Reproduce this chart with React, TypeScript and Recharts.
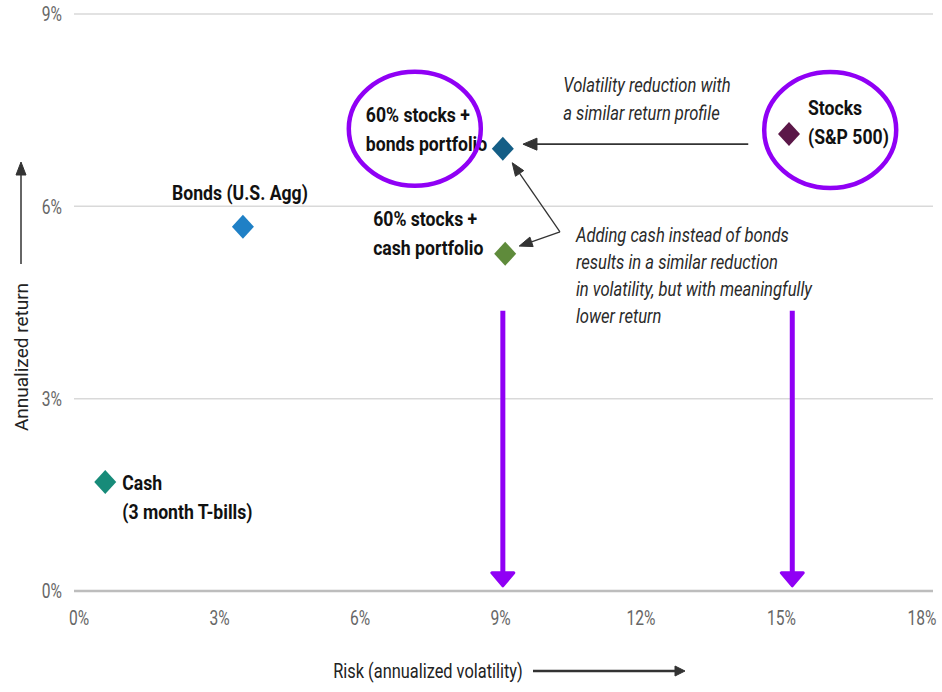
import { ScatterChart, Scatter, XAxis, YAxis, CartesianGrid, ReferenceLine, ReferenceDot, Label } from 'recharts'

// Risk / return per asset mix
const assets = ['Stocks (S&P 500)', '60% stocks + bonds portfolio', '60% stocks + cash portfolio', 'Bonds (U.S. Agg)', 'Cash (3 month T-bills)']
const risk = [15.16, 9.05, 9.1, 3.5, 0.56]
const annualReturn = [7.13, 6.9, 5.26, 5.68, 1.7]
const pointLabels = [['Stocks', '(S&P 500)'], ['60% stocks +', 'bonds portfolio'], ['60% stocks +', 'cash portfolio'], ['Bonds (U.S. Agg)'], ['Cash', '(3 month T-bills)']]

const xTicks = [0, 3, 6, 9, 12, 15, 18]
const yTicks = [0, 3, 6, 9]

const noteTop = ['Volatility reduction with', 'a similar return profile']
const noteBottom = ['Adding cash instead of bonds', 'results in a similar reduction', 'in volatility, but with meaningfully', 'lower return']

const FONT = "Roboto, 'Liberation Sans', sans-serif"
const PURPLE = '#9000f5'
const colors = ['#5b1748', '#145e86', '#5f8b3b', '#1f80c6', '#178b79']

// where each point's label sits relative to its marker
const labelPos = [
  { dx: 19, dy: -26, anchor: 'start' },
  { dx: -137, dy: -34, anchor: 'start' },
  { dx: -132, dy: -35, anchor: 'start' },
  { dx: -3, dy: -34, anchor: 'middle' },
  { dx: 17, dy: 1, anchor: 'start' },
]

const data = assets.map((name, i) => ({ name, idx: i, risk: risk[i], ret: annualReturn[i] }))

// narrow text: squeeze glyphs horizontally around the anchor point
function CText({ x, y, sx = 0.88, children, ...rest }: any) {
  return (
    <g transform={`translate(${x},${y}) scale(${sx},1)`}>
      <text x={0} y={0} dominantBaseline="central" fontFamily={FONT} {...rest}>
        {children}
      </text>
    </g>
  )
}

function Diamond(props: any) {
  const { cx, cy, payload } = props
  const i = payload.idx
  const pos = labelPos[i]
  return (
    <g>
      <path d={`M${cx},${cy - 12} L${cx + 11},${cy} L${cx},${cy + 12} L${cx - 11},${cy} Z`} fill={colors[i]} />
      {pointLabels[i].map((t, k) => (
        <CText key={k} x={cx + pos.dx} y={cy + pos.dy + k * 29} sx={0.84} textAnchor={pos.anchor}
          fontWeight={700} fontSize={21} fill="#111">{t}</CText>
      ))}
    </g>
  )
}

function Arrow(props: any) {
  const { x1, y1, x2, y2, color = '#333', width = 1.5, head = 12, spread = 5 } = props
  const a = Math.atan2(y2 - y1, x2 - x1)
  const bx = x2 - head * Math.cos(a)
  const by = y2 - head * Math.sin(a)
  const px = -Math.sin(a) * spread
  const py = Math.cos(a) * spread
  return (
    <g>
      <line x1={x1} y1={y1} x2={bx} y2={by} stroke={color} strokeWidth={width} />
      <polygon points={`${x2},${y2} ${bx + px},${by + py} ${bx - px},${by - py}`} fill={color} stroke={color} strokeWidth={1} strokeLinejoin="round" />
    </g>
  )
}

function PurpleArrow(props: any) {
  const { x1, y1, x2, y2 } = props
  return (
    <g>
      <line x1={x1} y1={y1} x2={x2} y2={y2 - 10} stroke={PURPLE} strokeWidth={5} />
      <polygon points={`${x2 - 11},${y2 - 13} ${x2 + 11},${y2 - 13} ${x2},${y2}`} fill={PURPLE} stroke={PURPLE} strokeWidth={3} strokeLinejoin="round" />
    </g>
  )
}

function Note({ cx, cy, lines, gap }: any) {
  return (
    <g>
      {lines.map((t: string, k: number) => (
        <CText key={k} x={cx} y={cy + k * gap} sx={0.83} fontStyle="italic" fontSize={20} fill="#2a2a2a">{t}</CText>
      ))}
    </g>
  )
}

function XTick({ x, y, payload }: any) {
  return <CText x={x} y={y + 12} sx={0.78} textAnchor="middle" fontSize={20} fill="#666">{payload.value}%</CText>
}

function YTick({ x, y, payload }: any) {
  return <CText x={x} y={y} sx={0.78} textAnchor="end" fontSize={20} fill="#666">{payload.value}%</CText>
}

export default function App() {
  return (
    <div style={{ position: 'absolute', left: 0, top: 0, background: '#fff' }}>
      <ScatterChart width={942} height={692} margin={{ top: 14, right: 9, bottom: 71, left: 0 }}>
        <CartesianGrid vertical={false} stroke="#d9d9d9" strokeWidth={1.5} />
        <XAxis type="number" dataKey="risk" domain={[0, 18]} ticks={xTicks} interval={0} height={30}
          padding={{ left: 5, right: 11 }} tickLine={false} tickSize={0} tickMargin={15}
          axisLine={{ stroke: '#bdbdbd', strokeWidth: 2.5 }} tick={<XTick />}>
          <Label content={({ viewBox }: any) => {
            const cy = viewBox.y + 80
            const cx = viewBox.x + 354
            return (
              <g>
                <CText x={cx} y={cy} sx={0.82} textAnchor="middle" fontSize={20} fill="#222">Risk (annualized volatility)</CText>
                <Arrow x1={cx + 105} y1={cy} x2={cx + 257} y2={cy} width={2.5} head={10} spread={5} />
              </g>
            )
          }} />
        </XAxis>
        <YAxis type="number" dataKey="ret" domain={[0, 9]} ticks={yTicks} interval={0} width={74}
          tickLine={false} tickSize={0} tickMargin={12} axisLine={false} tick={<YTick />}>
          <Label content={({ viewBox }: any) => {
            const cx = viewBox.x + 21
            const cy = viewBox.y + 343
            return (
              <g>
                <text x={cx} y={cy} transform={`rotate(-90 ${cx} ${cy})`} textAnchor="middle" dominantBaseline="central"
                  fontFamily={FONT} fontSize={19} fill="#222">Annualized return</text>
                <Arrow x1={cx} y1={cy - 93} x2={cx} y2={cy - 195} width={1.5} head={13} spread={5} />
              </g>
            )
          }} />
        </YAxis>

        {/* callout arrows between points */}
        <ReferenceLine segment={[{ x: 14.29, y: 6.97 }, { x: 9.48, y: 6.97 }]} shape={(p: any) => <Arrow {...p} width={1.6} head={14} spread={6} />} />
        <ReferenceLine segment={[{ x: 10.27, y: 5.6 }, { x: 9.25, y: 6.68 }]} shape={(p: any) => <Arrow {...p} width={1.3} head={13} spread={5} />} />
        <ReferenceLine segment={[{ x: 10.27, y: 5.6 }, { x: 9.4, y: 5.38 }]} shape={(p: any) => <Arrow {...p} width={1.3} head={13} spread={5} />} />

        <ReferenceDot x={10.34} y={7.89} r={0} shape={(p: any) => <Note cx={p.cx} cy={p.cy} lines={noteTop} gap={28} />} />
        <ReferenceDot x={10.61} y={5.55} r={0} shape={(p: any) => <Note cx={p.cx} cy={p.cy} lines={noteBottom} gap={27} />} />

        <Scatter data={data} shape={<Diamond />} isAnimationActive={false} />

        {/* purple highlights */}
        <ReferenceDot x={7.17} y={7.21} r={0} shape={(p: any) => <ellipse cx={p.cx} cy={p.cy} rx={66} ry={57} fill="none" stroke={PURPLE} strokeWidth={4.5} />} />
        <ReferenceDot x={16.04} y={7.19} r={0} shape={(p: any) => <ellipse cx={p.cx} cy={p.cy} rx={66} ry={58} fill="none" stroke={PURPLE} strokeWidth={4.5} />} />
        <ReferenceLine segment={[{ x: 9.05, y: 4.37 }, { x: 9.05, y: 0.08 }]} shape={(p: any) => <PurpleArrow {...p} />} />
        <ReferenceLine segment={[{ x: 15.23, y: 4.37 }, { x: 15.23, y: 0.08 }]} shape={(p: any) => <PurpleArrow {...p} />} />
      </ScatterChart>
    </div>
  )
}
